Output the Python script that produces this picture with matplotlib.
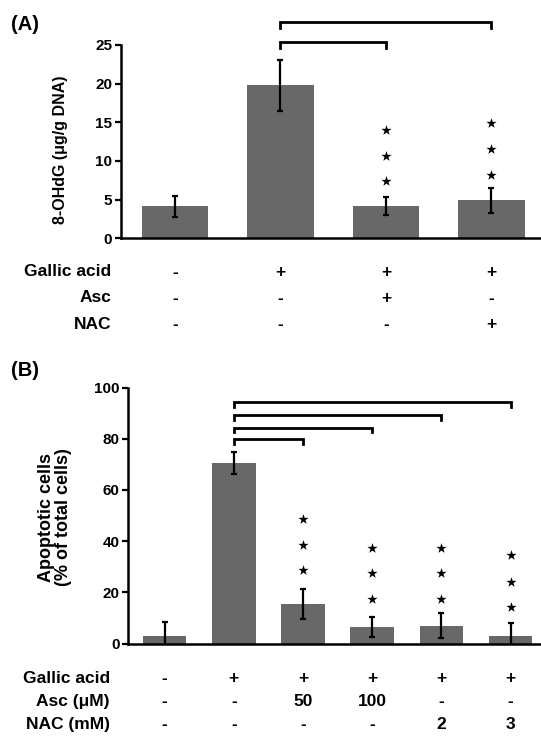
import matplotlib
matplotlib.use("Agg")
import matplotlib.pyplot as plt
from matplotlib.transforms import blended_transform_factory

plt.rcParams['font.family'] = ['Liberation Sans', 'DejaVu Sans']
plt.rcParams['font.weight'] = 'bold'

# ---------------- data: panel A ----------------
a_vals = [4.15, 19.8, 4.2, 4.9]
a_err = [1.35, 3.3, 1.2, 1.6]
a_yticks = [0, 5, 10, 15, 20, 25]
a_row_labels = ['Gallic acid', 'Asc', 'NAC']
a_table = [['-', '+', '+', '+'],
           ['-', '-', '+', '-'],
           ['-', '-', '-', '+']]
a_brackets = [(1, 2, 25.4), (1, 3, 28.0)]
a_star_bars = [2, 2, 2, 3, 3, 3]
a_star_y = [7.4, 10.7, 14.0, 8.2, 11.6, 14.9]

# ---------------- data: panel B ----------------
b_vals = [3.0, 70.6, 15.4, 6.4, 6.9, 3.0]
b_err = [5.5, 4.2, 5.8, 4.0, 4.9, 4.9]
b_yticks = [0, 20, 40, 60, 80, 100]
b_row_labels = ['Gallic acid', 'Asc (\u03bcM)', 'NAC (mM)']
b_table = [['-', '+', '+', '+', '+', '+'],
           ['-', '-', '50', '100', '-', '-'],
           ['-', '-', '-', '-', '2', '3']]
b_brackets = [(1, 2, 79.8), (1, 3, 84.3), (1, 4, 89.3), (1, 5, 94.2)]
b_star_bars = [2, 2, 2, 3, 3, 3, 4, 4, 4, 5, 5, 5]
b_star_y = [28.6, 38.6, 48.6, 17.3, 27.4, 37.4, 17.3, 27.4, 37.4, 14.1, 24.1, 34.5]

W, H = 541, 738
fig = plt.figure(figsize=(W / 100, H / 100), dpi=100)

BAR = '#686868'


def fy(px):
    return 1 - px / H


def panel(ax, vals, err, yticks, xlim, brackets, btick, star_x, star_y,
          row_labels, table, row_px, label_right_px):
    x = list(range(len(vals)))
    ax.bar(x, vals, width=0.63, color=BAR, zorder=2)
    ax.errorbar(x, vals, yerr=err, fmt='none', ecolor='black', elinewidth=1.6,
                capsize=2.5, capthick=1.6, zorder=3)
    ax.set_xlim(*xlim)
    ax.set_ylim(0, yticks[-1])
    ax.set_yticks(yticks)
    ax.set_xticks([])
    for s in ['top', 'right']:
        ax.spines[s].set_visible(False)
    for s in ['left', 'bottom']:
        ax.spines[s].set_linewidth(1.8)
    ax.tick_params(axis='y', length=4, width=1.6, labelsize=11, pad=2)
    for lab in ax.get_yticklabels():
        lab.set_fontweight('bold')
    for (i0, i1, yb) in brackets:
        ax.plot([i0, i0, i1, i1], [yb - btick, yb, yb, yb - btick],
                color='black', lw=2.0, clip_on=False, solid_joinstyle='miter',
                zorder=4)
    ax.scatter(star_x, star_y, marker='*', s=60, color='black', zorder=4,
               clip_on=False, linewidths=0)
    tr = blended_transform_factory(ax.transData, fig.transFigure)
    for r, (lab, row) in enumerate(zip(row_labels, table)):
        fig.text(label_right_px / W, fy(row_px[r]), lab, ha='right',
                 va='center', fontsize=12.5, fontweight='bold')
        for i, sym in enumerate(row):
            ax.text(i, fy(row_px[r]), sym, transform=tr, ha='center',
                    va='center', fontsize=12.5, fontweight='bold')


# Panel A axes: left spine 120.7px, zero at 238.3px, 25 at 45px
axA = fig.add_axes([120.7 / W, fy(238.3), 1 - 120.7 / W, (238.3 - 45) / H])
panel(axA, a_vals, a_err, a_yticks, (-0.515, 3.47), a_brackets, 0.8,
      a_star_bars, a_star_y, a_row_labels, a_table,
      [272.0, 298.0, 324.3], 111)

# Panel B axes: left spine 128px, zero at 643.5px, 100 at 387.5px
axB = fig.add_axes([128 / W, fy(643.5), 1 - 128 / W, (643.5 - 387.5) / H])
panel(axB, b_vals, b_err, b_yticks, (-0.53, 5.44), b_brackets, 1.8,
      b_star_bars, b_star_y, b_row_labels, b_table,
      [678.3, 701.7, 724.3], 110)

fig.text(61 / W, fy(150), '8-OHdG (\u03bcg/g DNA)', rotation=90, ha='center',
         va='center', fontsize=11.5, fontweight='bold')
fig.text(55 / W, fy(517), 'Apoptotic cells\n(% of total cells)', rotation=90,
         ha='center', va='center', fontsize=13, fontweight='bold',
         linespacing=1.0)
fig.text(11 / W, fy(25), '(A)', ha='left', va='center', fontsize=14.5,
         fontweight='bold')
fig.text(11 / W, fy(371), '(B)', ha='left', va='center', fontsize=14.5,
         fontweight='bold')

fig.savefig('out.png', dpi=100)
